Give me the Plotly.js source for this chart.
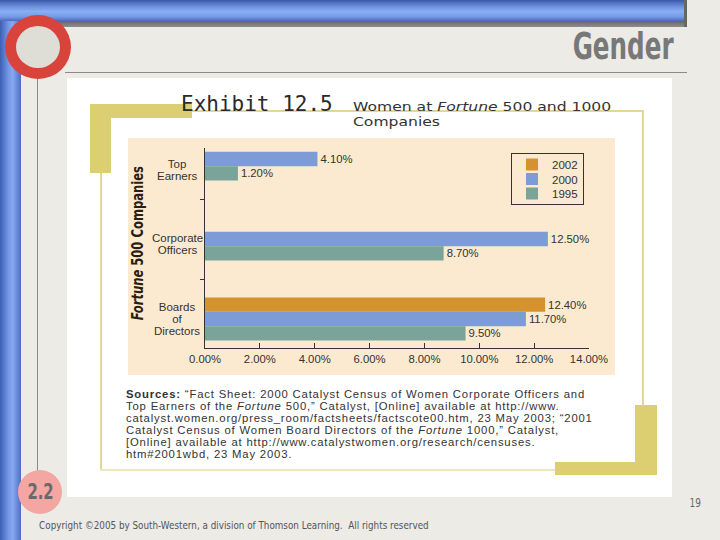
<!DOCTYPE html>
<html>
<head>
<meta charset="utf-8">
<script src="https://cdn.plot.ly/plotly-3.0.1.min.js"></script>
<style>
html, body { margin: 0; padding: 0; background: #ECEBE6; }
#wrap { position: relative; width: 720px; height: 540px; overflow: hidden; background: #ECEBE6; }
.abs { position: absolute; }
#chart { position: absolute; left: 0; top: 0; width: 720px; height: 540px; }
</style>
</head>
<body>
<div id="wrap">
  <!-- slide decoration -->
  <div class="abs" style="left:0;top:14px;width:21px;height:526px;background:linear-gradient(to right,#3c5fb5 0%,#7597e4 40%,#86a8f2 60%,#4d6fc4 100%);"></div>
  <div class="abs" style="left:0;top:0;width:684px;height:21px;background:linear-gradient(to bottom,#3a5aa8 0%,#6a8edc 30%,#8aaef5 55%,#7699e6 80%,#4a6bbd 100%);"></div>
  <div class="abs" style="left:18px;top:21px;width:669px;height:6px;background:linear-gradient(to bottom,#666,#8e8e8e);"></div>
  <div class="abs" style="left:684px;top:0;width:3px;height:27px;background:#666;"></div>
  <div class="abs" style="left:65px;top:72px;width:622px;height:1px;background:#8a8a8a;"></div>
  <div class="abs" style="left:37px;top:76px;width:1px;height:396px;background:#8a8a8a;"></div>
  <div class="abs" style="left:5px;top:15px;width:44px;height:42px;border:11px solid #D8443B;border-radius:50%;background:#DEDDD6;"></div>
  <div class="abs" style="left:18px;top:470px;width:44px;height:44px;border-radius:50%;background:#F4A6A3;"></div>
  <!-- white panel -->
  <div class="abs" style="left:67px;top:78px;width:605px;height:419px;background:#FFFFFF;"></div>
  <!-- exhibit frame -->
  <div class="abs" style="left:100px;top:110px;width:543px;height:1.5px;background:#E2D894;"></div>
  <div class="abs" style="left:642px;top:110px;width:1.5px;height:300px;background:#E2D894;"></div>
  <div class="abs" style="left:100px;top:110px;width:1.5px;height:360px;background:#E2D894;"></div>
  <div class="abs" style="left:100px;top:469px;width:460px;height:1.5px;background:#EDE6B8;"></div>
  <div class="abs" style="left:90px;top:104px;width:102px;height:14px;background:#DCCF72;"></div>
  <div class="abs" style="left:90px;top:104px;width:21px;height:69px;background:#DCCF72;"></div>
  <div class="abs" style="left:635px;top:405px;width:22px;height:70px;background:#DCCF72;"></div>
  <div class="abs" style="left:555px;top:462px;width:102px;height:13px;background:#DCCF72;"></div>
  <!-- chart panel -->
  <div class="abs" style="left:128px;top:138px;width:487px;height:237px;background:#FBEAD0;"></div>
  <div id="chart"></div>
</div>
<script>
// ---- data ----
const categories = ['Top Earners', 'Corporate Officers', 'Boards of Directors'];
const categoryLabels = ['Top<br>Earners', 'Corporate<br>Officers', 'Boards<br>of<br>Directors'];
const years = ['2002', '2000', '1995'];
const women2002 = [null, null, 12.4];
const women2000 = [4.1, 12.5, 11.7];
const women1995 = [1.2, 8.7, 9.5];
const xTickValues = [0, 2, 4, 6, 8, 10, 12, 14];
const xTickLabels = xTickValues.map(v => v.toFixed(2) + '%');
const sourceLines = [
  '<b>Sources:</b> \u201cFact Sheet: 2000 Catalyst Census of Women Corporate Officers and',
  'Top Earners of the <i>Fortune</i> 500,\u201d Catalyst, [Online] available at http://www.',
  'catalyst.women.org/press_room/factsheets/factscote00.htm, 23 May 2003; \u201c2001',
  'Catalyst Census of Women Board Directors of the <i>Fortune</i> 1000,\u201d Catalyst,',
  '[Online] available at http://www.catalystwomen.org/research/censuses.',
  'htm#2001wbd, 23 May 2003.'
];

// ---- styles ----
const colors = ['#D5922F', '#7D9CD6', '#7AA399'];
const seriesValues = [women2002, women2000, women1995];
const L = 205, R = 589, T = 148, B = 348;
const px = x => (x - L) / (R - L);
const py = y => (B - y) / (B - T);
const SANS = 'Liberation Sans, Arial, Helvetica, sans-serif';
const COND = 'DejaVu Sans Condensed, DejaVu Sans, sans-serif';
const labelShift = [-11, -5, 0];

const pct = v => (v == null ? '' : v.toFixed(2) + '%');

const traces = years.map((yr, i) => ({
  type: 'bar',
  orientation: 'h',
  name: yr,
  y: categories,
  x: seriesValues[i],
  text: seriesValues[i].map(pct),
  textposition: 'outside',
  constraintext: 'none',
  cliponaxis: false,
  textfont: { family: SANS, size: 11.3, color: '#333' },
  marker: { color: colors[i], line: { width: 0 } },
  hoverinfo: 'skip'
}));

const annotations = [];
const fx = [];
function ann(o, f) {
  annotations.push(Object.assign({ xref: 'paper', yref: 'paper', showarrow: false }, o));
  if (f) fx.push(Object.assign({ idx: annotations.length - 1 }, f));
}

ann({ text: 'Exhibit 12.5', x: px(179), y: py(104), xanchor: 'left', yanchor: 'middle',
      font: { family: 'DejaVu Sans Mono, monospace', size: 21, color: '#2a2a2a' } });
ann({ text: 'Women at <i>Fortune</i> 500 and 1000<br>Companies', align: 'left',
      x: px(351), y: py(96.5), xanchor: 'left', yanchor: 'top',
      font: { family: 'DejaVu Sans, sans-serif', size: 13, color: '#333' } },
    { sx: 1.2, origin: 'left', lh: 15.5 });
ann({ text: '<b><i>Fortune</i> 500 Companies</b>', textangle: -90, x: px(138), y: py(243),
      xanchor: 'center', yanchor: 'middle', font: { family: COND, size: 15.5, color: '#2b1d10' } },
    { sx: 0.83, origin: 'center' });
categories.forEach((c, i) => {
  annotations.push({ xref: 'paper', yref: 'y', x: px(177), y: c, yshift: labelShift[i], showarrow: false,
    text: categoryLabels[i], align: 'center', xanchor: 'center', yanchor: 'middle',
    font: { family: SANS, size: 11.5, color: '#333' } });
  fx.push({ idx: annotations.length - 1, lh: 12, mid: true, fs: 11.5 });
});
ann({ text: sourceLines.join('<br>'), align: 'left', x: px(124), y: py(386), xanchor: 'left', yanchor: 'top',
      font: { family: SANS, size: 11.3, color: '#333' } },
    { lh: 12, ls: 0.82 });
ann({ text: '<b>Gender</b>', x: px(676), y: py(46), xanchor: 'right', yanchor: 'middle',
      font: { family: COND, size: 37, color: '#787878' } }, { sx: 0.74, origin: 'right' });
ann({ text: '<b>2.2</b>', x: px(40), y: py(491), xanchor: 'center', yanchor: 'middle',
      font: { family: COND, size: 22, color: '#6a6a6a' } }, { sx: 0.75, origin: 'center' });
ann({ text: '19', x: px(695), y: py(502), xanchor: 'center', yanchor: 'middle',
      font: { family: COND, size: 12.5, color: '#666' } }, { sx: 0.8, origin: 'center' });
ann({ text: 'Copyright \u00a92005 by South-Western, a division of Thomson Learning.&nbsp; All rights reserved',
      x: px(37), y: py(525), xanchor: 'left', yanchor: 'middle',
      font: { family: COND, size: 11, color: '#555' } }, { sx: 0.89, origin: 'left' });

const LEGEND_TOP = 153, LEGEND_ROW = 14.5;
const layout = {
  width: 720, height: 540, autosize: false,
  margin: { l: L, r: 720 - R, t: T, b: 540 - B, pad: 0 },
  paper_bgcolor: 'rgba(0,0,0,0)',
  plot_bgcolor: 'rgba(0,0,0,0)',
  font: { family: SANS, size: 11, color: '#333' },
  barmode: 'group',
  bargap: 0.46,
  bargroupgap: 0,
  showlegend: true,
  legend: {
    x: px(511), y: py(LEGEND_TOP), xanchor: 'left', yanchor: 'top',
    bgcolor: '#FBEAD0', bordercolor: '#333', borderwidth: 1,
    font: { family: SANS, size: 11.5, color: '#333' }, traceorder: 'normal'
  },
  xaxis: {
    range: [0, 14], tickmode: 'array', tickvals: xTickValues, ticktext: xTickLabels,
    ticks: 'inside', ticklen: 5, tickcolor: '#333', tickwidth: 1,
    showline: true, linecolor: '#333', linewidth: 1,
    showgrid: false, zeroline: false,
    tickfont: { family: SANS, size: 11.3, color: '#333' }
  },
  yaxis: {
    type: 'category', categoryorder: 'array', categoryarray: categories,
    range: [2.3625, -0.1375],
    showline: true, linecolor: '#333', linewidth: 1,
    ticks: 'outside', ticklen: 4, tickcolor: '#333', tickson: 'boundaries',
    showticklabels: false, showgrid: false, zeroline: false
  },
  annotations: annotations
};

function parseTranslate(s) {
  const m = /translate\(\s*([-\d.e]+)[ ,]+([-\d.e]+)\s*\)/.exec(s || '');
  return m ? [parseFloat(m[1]), parseFloat(m[2])] : [0, 0];
}

function postProcess(gd) {
  fx.forEach(f => {
    const g = gd.querySelector('.annotation[data-index="' + f.idx + '"]');
    const t = g && g.querySelector('text.annotation-text');
    if (!t) return;
    if (f.ls) t.style.letterSpacing = f.ls + 'px';
    let tr = t.getAttribute('transform') || '';
    if (f.lh) {
      const lines = t.querySelectorAll('tspan.line');
      lines.forEach((ln, n) => ln.setAttribute('dy', (n * f.lh) + 'px'));
      if (f.mid && lines.length > 1) {
        const ty = (lines.length - 1) * (1.3 * f.fs - f.lh) / 2;
        tr += ' translate(0,' + ty + ')';
      }
    }
    if (f.sx) {
      const b = t.getBBox();
      const ox = f.origin === 'right' ? b.x + b.width : f.origin === 'left' ? b.x : b.x + b.width / 2;
      tr += ' translate(' + ox + ',0) scale(' + f.sx + ',1) translate(' + (-ox) + ',0)';
    }
    if (tr) t.setAttribute('transform', tr);
  });
  // tighten legend rows
  const leg = gd.querySelector('.legend');
  if (leg) {
    const items = Array.from(leg.querySelectorAll('g.traces'));
    if (items.length > 1) {
      const ys = items.map(it => parseTranslate(it.getAttribute('transform')));
      const first = ys[0][1];
      items.forEach((it, i) => it.setAttribute('transform', 'translate(' + ys[i][0] + ',' + (first + i * LEGEND_ROW) + ')'));
      const bg = leg.querySelector('rect.bg');
      if (bg) {
        const h = parseFloat(bg.getAttribute('height'));
        const shrink = (ys[ys.length - 1][1] - first) - (items.length - 1) * LEGEND_ROW;
        bg.setAttribute('height', h - shrink - 8);
        const sb = leg.querySelector('.scrollbox');
        if (sb) {
          const st = parseTranslate(sb.getAttribute('transform'));
          sb.setAttribute('transform', 'translate(' + st[0] + ',' + (st[1] - 4) + ')');
        }
      }
    }
  }
}

Plotly.newPlot('chart', traces, layout, { staticPlot: true, displayModeBar: false }).then(postProcess);
</script>
</body>
</html>
